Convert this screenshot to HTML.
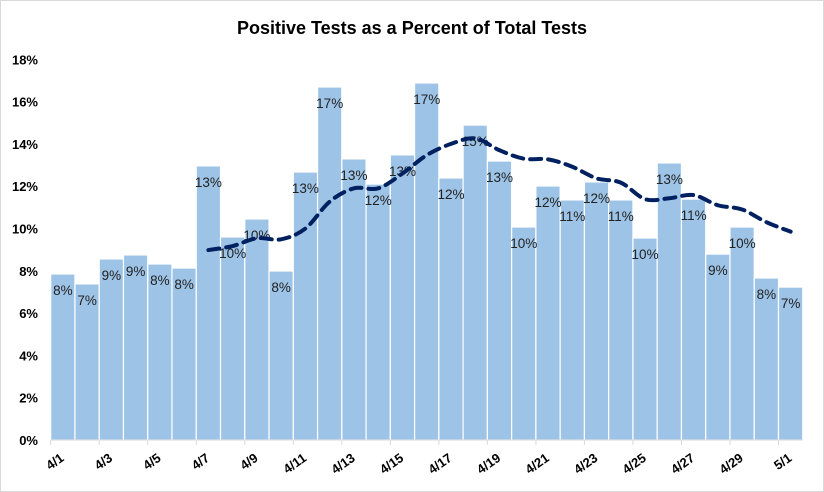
<!DOCTYPE html>
<html><head><meta charset="utf-8"><style>
body{margin:0;background:#fff}
svg{display:block;font-family:"Liberation Sans",Calibri,sans-serif}
</style></head><body>
<svg width="824" height="492" viewBox="0 0 824 492">
<rect x="0.5" y="0.5" width="823" height="491" fill="#fff" stroke="#d9d9d9"/>
<text x="412" y="34" text-anchor="middle" font-size="18" font-weight="bold" fill="#000">Positive Tests as a Percent of Total Tests</text>
<g id="yaxis"></g><g id="bars"></g><g id="labels"></g><g id="line"></g><g id="xaxis"></g>
</svg>
<script>
const categories=["4/1","4/2","4/3","4/4","4/5","4/6","4/7","4/8","4/9","4/10","4/11","4/12","4/13","4/14","4/15","4/16","4/17","4/18","4/19","4/20","4/21","4/22","4/23","4/24","4/25","4/26","4/27","4/28","4/29","4/30","5/1"];
const positivePct=[7.85,7.38,8.56,8.75,8.32,8.13,12.96,9.6,10.45,7.99,12.67,16.69,13.29,12.1,13.48,16.88,12.39,14.89,13.19,10.07,12.01,11.35,12.2,11.35,9.55,13.1,11.39,8.79,10.07,7.66,7.23];
const movingAvg=[null,null,null,null,null,null,8.98,9.17,9.54,9.49,10.0,11.27,11.9,11.9,12.6,13.47,14.0,14.26,13.7,13.3,13.27,12.92,12.37,12.17,11.39,11.43,11.58,11.1,10.9,10.3,9.85];
const yTicks=[0,2,4,6,8,10,12,14,16,18];
const NS="http://www.w3.org/2000/svg";
const x0=50.7,bw=24.26,yBase=440,yTop=59.3,yMax=18;
function xs(i){return x0+i*bw;}
function ys(v){return yBase-(v/yMax)*(yBase-yTop);}
function mk(t,a,p){const e=document.createElementNS(NS,t);for(const k in a)e.setAttribute(k,a[k]);p.appendChild(e);return e;}
const gy=document.getElementById('yaxis');
yTicks.forEach(v=>{const t=mk('text',{x:38,y:ys(v)+5,'text-anchor':'end','font-size':13,'font-weight':'bold',fill:'#000'},gy);t.textContent=v+'%';

});
const gb=document.getElementById('bars'),gl=document.getElementById('labels');
positivePct.forEach((v,i)=>{const r=mk('rect',{x:xs(i),y:ys(v),width:bw,height:yBase-ys(v),fill:'#9dc3e6',stroke:'#fff','stroke-width':1.2},gb);


const t=mk('text',{x:xs(i)+bw/2,y:ys(v)+21,'text-anchor':'middle','font-size':13.5,fill:'#222'},gl);t.textContent=Math.round(v)+'%';

});
const pts=[];movingAvg.forEach((v,i)=>{if(v!=null)pts.push([xs(i)+bw/2,ys(v)]);});
let d='M'+pts[0][0]+','+pts[0][1];
for(let i=0;i<pts.length-1;i++){const p0=pts[Math.max(0,i-1)],p1=pts[i],p2=pts[i+1],p3=pts[Math.min(pts.length-1,i+2)];
const c1=[p1[0]+(p2[0]-p0[0])/6,p1[1]+(p2[1]-p0[1])/6],c2=[p2[0]-(p3[0]-p1[0])/6,p2[1]-(p3[1]-p1[1])/6];
d+=' C'+c1+' '+c2+' '+p2;}
const ln=mk('path',{d:d,fill:'none',stroke:'#002060','stroke-width':4,'stroke-dasharray':'11,7','stroke-linecap':'round'},document.getElementById('line'));


const gx=document.getElementById('xaxis');
const ax=mk('line',{x1:x0,y1:yBase,x2:xs(31),y2:yBase,stroke:'#d9d9d9','stroke-width':1},gx);


for(let i=0;i<=31;i+=2){mk('line',{x1:xs(i),y1:yBase,x2:xs(i),y2:yBase+5,stroke:'#d9d9d9'},gx);}
categories.forEach((c,i)=>{if(i%2)return;const cx=xs(i)+bw/2+2,cy=460;
const t=mk('text',{x:cx,y:cy,'text-anchor':'end','font-size':13,'font-weight':'bold',fill:'#000',transform:'rotate(-35 '+cx+' '+cy+')'},gx);t.textContent=c;

});
</script>
</body></html>
